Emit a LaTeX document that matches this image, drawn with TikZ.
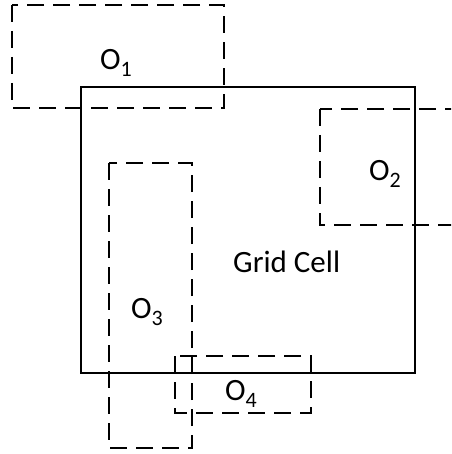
\documentclass[tikz,border=0pt]{standalone}
\usepackage{fontspec}
\setmainfont{Carlito}
\usetikzlibrary{positioning}

\newcommand{\osub}[1]{O\raisebox{-7pt}{\fontsize{22}{24}\selectfont #1}}

\begin{document}
\begin{tikzpicture}[
		x=1pt, y=-1pt,
		font=\fontsize{31}{36}\selectfont,
		cell/.style={draw=black, line width=2.8pt},
		obstacle/.style={draw=black, line width=2.4pt, dash pattern=on 17pt off 9pt},
		tag/.style={anchor=base west, inner sep=0pt}
		]
		
		\useasboundingbox (0,0) rectangle (451,454);
		\clip (0,0) rectangle (451,454);
		
		% Grid cell
		\draw[cell] (81,87) rectangle (415,373);
		\node[tag] (cell) at (233,272) {Grid Cell};
		
		% Obstacles
		\draw[obstacle] (12,5) rectangle (224,108);
		\node[tag] (o1) at (100,70) {\osub{1}};
		
		\draw[obstacle] (320,109) rectangle (470,225);
		\node[tag] (o2) at (369,180) {\osub{2}};
		
		\draw[obstacle] (109,163) rectangle (192,448);
		\node[tag] (o3) at (131,318) {\osub{3}};
		
		\draw[obstacle] (175,356) rectangle (311,413);
		\node[tag] (o4) at (225,400) {\osub{4}};
		
	\end{tikzpicture}
\end{document}
